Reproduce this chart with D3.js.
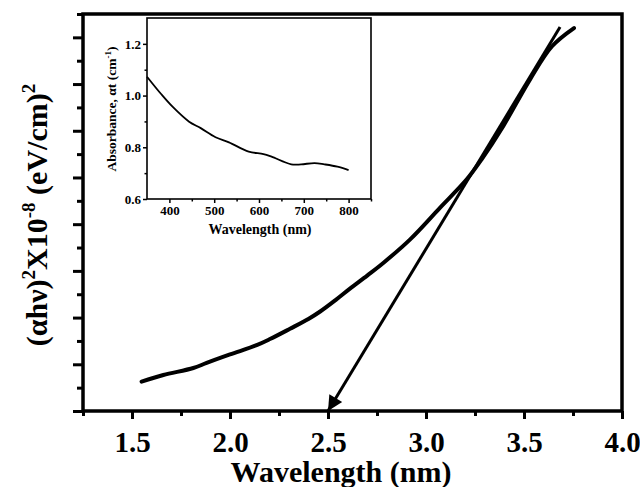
<!DOCTYPE html>
<html>
<head>
<meta charset="utf-8">
<script src="https://cdn.jsdelivr.net/npm/d3@7"></script>
<style>
  body { margin: 0; background: #fff; }
  text { font-family: "Liberation Serif", "Times New Roman", serif; font-weight: bold; fill: #000; }
</style>
</head>
<body>
<svg id="chart" width="640" height="487"></svg>
<script>
// Tauc curve (main panel)
const taucEnergy = [1.549, 1.660, 1.813, 1.881, 2.000, 2.136, 2.204, 2.306, 2.400, 2.460, 2.540, 2.612, 2.700, 2.782, 2.918, 3.071, 3.208, 3.284, 3.394, 3.531, 3.643, 3.755];
const taucValue  = [0.63, 0.77, 0.92, 1.03, 1.21, 1.41, 1.54, 1.76, 1.97, 2.13, 2.38, 2.62, 2.90, 3.17, 3.67, 4.35, 4.96, 5.39, 6.10, 7.10, 7.81, 8.20];

// Linear extrapolation to the energy axis
const fitEnergy = [3.684, 2.5];
const fitValue  = [8.22, 0];

const xTickLabels = [1.5, 2.0, 2.5, 3.0, 3.5, 4.0];

// Inset: absorbance spectrum
const insetWavelength = [350, 382, 407, 444, 470, 503, 533, 577, 610, 628, 672, 694, 724, 746, 775, 800];
const insetAbsorbance = [1.073, 1.005, 0.957, 0.899, 0.874, 0.839, 0.819, 0.783, 0.774, 0.764, 0.734, 0.734, 0.739, 0.734, 0.725, 0.712];
const insetXTicks = [400, 500, 600, 700, 800];
const insetYTicks = [0.6, 0.8, 1.0, 1.2];

const svg = d3.select("#chart");

// ---------- main panel ----------
const M = { left: 83, right: 622, top: 14, bottom: 411 };
const x = d3.scaleLinear().domain([1.25, 4.0]).range([M.left, M.right]);
const y = d3.scaleLinear().domain([0, 8.5]).range([M.bottom, M.top]);

// x axis: major every 0.5, minor between
const xMinor = d3.range(1.25, 4.0001, 0.25).filter(v => Math.abs(v * 2 - Math.round(v * 2)) > 1e-6);
svg.append("g").attr("transform", `translate(0,${M.bottom})`)
  .call(d3.axisBottom(x).tickValues(xMinor).tickSize(5).tickFormat(""))
  .call(g => g.select(".domain").remove())
  .call(g => g.selectAll("line").attr("stroke-width", 3));
const gx = svg.append("g").attr("transform", `translate(0,${M.bottom})`)
  .call(d3.axisBottom(x).tickValues(xTickLabels).tickSize(8).tickPadding(12).tickFormat(d3.format(".1f")));
gx.select(".domain").remove();
gx.selectAll("line").attr("stroke-width", 3);
gx.selectAll("text").style("font-size", "29px").attr("fill", "#000");

// y axis: unlabeled ticks, major every 1, minor every 0.5
const yAll = d3.range(0, 8.5001, 0.5);
const yMajor = yAll.filter(v => Math.abs(v - Math.round(v)) < 1e-6);
const yMinor = yAll.filter(v => Math.abs(v - Math.round(v)) > 1e-6);
svg.append("g").attr("transform", `translate(${M.left},0)`)
  .call(d3.axisLeft(y).tickValues(yMajor).tickSize(10).tickFormat(""))
  .call(g => g.select(".domain").remove())
  .call(g => g.selectAll("line").attr("stroke-width", 3));
svg.append("g").attr("transform", `translate(${M.left},0)`)
  .call(d3.axisLeft(y).tickValues(yMinor).tickSize(6).tickFormat(""))
  .call(g => g.select(".domain").remove())
  .call(g => g.selectAll("line").attr("stroke-width", 3));

// frame
svg.append("rect")
  .attr("x", M.left).attr("y", M.top)
  .attr("width", M.right - M.left).attr("height", M.bottom - M.top)
  .attr("fill", "none").attr("stroke", "#000").attr("stroke-width", 3.5);

// Tauc curve
const taucLine = d3.line().x(d => x(d[0])).y(d => y(d[1])).curve(d3.curveCatmullRom);
svg.append("path")
  .datum(taucEnergy.map((e, i) => [e, taucValue[i]]))
  .attr("d", taucLine)
  .attr("fill", "none").attr("stroke", "#000")
  .attr("stroke-width", 4).attr("stroke-linecap", "round");

// extrapolated line with arrow head at the axis
svg.append("defs").append("marker")
  .attr("id", "arrowHead")
  .attr("viewBox", "0 0 10 10").attr("refX", 10).attr("refY", 5)
  .attr("markerWidth", 6).attr("markerHeight", 5)
  .attr("markerUnits", "strokeWidth").attr("orient", "auto")
  .append("path").attr("d", "M0,0 L10,5 L0,10 Z").attr("fill", "#000");
svg.append("path")
  .datum(fitEnergy.map((e, i) => [e, fitValue[i]]))
  .attr("d", d3.line().x(d => x(d[0])).y(d => y(d[1])))
  .attr("fill", "none").attr("stroke", "#000").attr("stroke-width", 3)
  .attr("marker-end", "url(#arrowHead)");

// axis titles
svg.append("text")
  .attr("x", 341).attr("y", 482)
  .attr("text-anchor", "middle").style("font-size", "30px")
  .text("Wavelength (nm)");

const yTitle = svg.append("text")
  .attr("transform", "translate(47,215) rotate(-90)")
  .attr("text-anchor", "middle").style("font-size", "30px");
yTitle.append("tspan").text("(αhν)");
yTitle.append("tspan").attr("dy", -12).style("font-size", "19px").text("2");
yTitle.append("tspan").attr("dy", 12).text("X10");
yTitle.append("tspan").attr("dy", -12).style("font-size", "19px").text("-8");
yTitle.append("tspan").attr("dy", 12).text(" (eV/cm)");
yTitle.append("tspan").attr("dy", -12).style("font-size", "19px").text("2");

// ---------- inset ----------
const I = { left: 147, right: 371, top: 18, bottom: 199 };
const ix = d3.scaleLinear().domain([350, 850]).range([I.left, I.right]);
const iy = d3.scaleLinear().domain([0.6, 1.3]).range([I.bottom, I.top]);

svg.append("rect")
  .attr("x", I.left).attr("y", I.top)
  .attr("width", I.right - I.left).attr("height", I.bottom - I.top)
  .attr("fill", "#fff").attr("stroke", "#000").attr("stroke-width", 1.6);

const igx = svg.append("g").attr("transform", `translate(0,${I.bottom})`)
  .call(d3.axisBottom(ix).tickValues(insetXTicks).tickSize(4).tickPadding(3).tickFormat(d3.format("d")));
igx.select(".domain").remove();
igx.selectAll("line").attr("stroke-width", 1.5);
igx.selectAll("text").style("font-size", "13px").attr("fill", "#000");
svg.append("g").attr("transform", `translate(0,${I.bottom})`)
  .call(d3.axisBottom(ix).tickValues([450, 550, 650, 750, 850]).tickSize(2.5).tickFormat(""))
  .call(g => g.select(".domain").remove())
  .call(g => g.selectAll("line").attr("stroke-width", 1.5));

const igy = svg.append("g").attr("transform", `translate(${I.left},0)`)
  .call(d3.axisLeft(iy).tickValues(insetYTicks).tickSize(4).tickPadding(2).tickFormat(d3.format(".1f")));
igy.select(".domain").remove();
igy.selectAll("line").attr("stroke-width", 1.5);
igy.selectAll("text").style("font-size", "13px").attr("fill", "#000");
svg.append("g").attr("transform", `translate(${I.left},0)`)
  .call(d3.axisLeft(iy).tickValues([0.7, 0.9, 1.1]).tickSize(2.5).tickFormat(""))
  .call(g => g.select(".domain").remove())
  .call(g => g.selectAll("line").attr("stroke-width", 1.5));

svg.append("path")
  .datum(insetWavelength.map((w, i) => [w, insetAbsorbance[i]]))
  .attr("d", d3.line().x(d => ix(d[0])).y(d => iy(d[1])).curve(d3.curveCatmullRom))
  .attr("fill", "none").attr("stroke", "#000").attr("stroke-width", 1.8);

svg.append("text")
  .attr("x", 260).attr("y", 234)
  .attr("text-anchor", "middle").style("font-size", "14px")
  .text("Wavelength (nm)");

const iyTitle = svg.append("text")
  .attr("transform", "translate(116,109) rotate(-90)")
  .attr("text-anchor", "middle").style("font-size", "13.5px");
iyTitle.append("tspan").text("Absorbance, αt (cm");
iyTitle.append("tspan").attr("dy", -5).style("font-size", "9px").text("-1");
iyTitle.append("tspan").attr("dy", 5).text(")");
</script>
</body>
</html>
